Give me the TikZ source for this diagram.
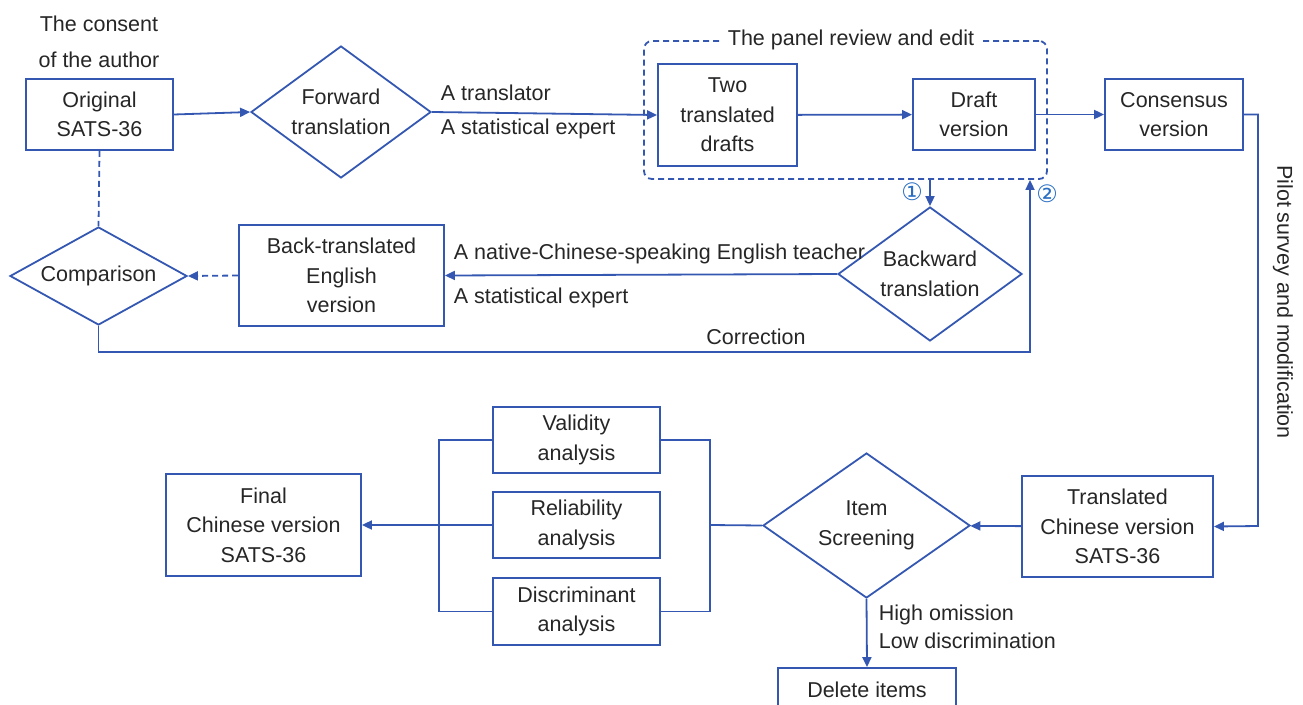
\documentclass[tikz,border=0pt]{standalone}
\usepackage{fontspec}
\setmainfont{Liberation Sans}
\newfontfamily\symfont{DejaVu Sans}
\usetikzlibrary{shapes.geometric,arrows.meta}
\definecolor{lineblue}{RGB}{52,88,178}
\definecolor{numblue}{RGB}{40,110,195}
\definecolor{txt}{RGB}{38,38,38}

\begin{document}
\begin{tikzpicture}[x=1pt,y=-1pt,line width=1.8pt,
  >={Triangle[length=10pt,width=9pt]},
  every node/.style={text=txt,font=\fontsize{21.5}{29.5}\selectfont,inner sep=0pt},
  box/.style={draw=lineblue,align=center},
  dia/.style={draw=lineblue,diamond,align=center},
  lab/.style={anchor=west},
  wire/.style={draw=lineblue},
  num/.style={text=numblue,font=\symfont\fontsize{24}{24}\selectfont},
  dash6/.style={dash pattern=on 6pt off 4pt}]
\useasboundingbox (0,0) rectangle (1303,704);

% boxes
\begin{scope}[every node/.append style={box}]
\node[minimum width=147,minimum height=71] (orig) at (99.5,114.5) {Original\\SATS-36};
\node[minimum width=139,minimum height=102] (two) at (727.5,115) {Two\\translated\\drafts};
\node[minimum width=122,minimum height=71] (draft) at (974,114.5) {Draft\\version};
\node[minimum width=138,minimum height=71] (cons) at (1174,114.5) {Consensus\\version};
\node[minimum width=205,minimum height=101] (btrans) at (341.5,275.5) {Back-translated\\English\\version};
\node[minimum width=191,minimum height=101] (trans) at (1117.5,526.5) {Translated\\Chinese version\\SATS-36};
\node[minimum width=195,minimum height=102] (final) at (263.5,525) {Final\\Chinese version\\SATS-36};
\node[minimum width=167,minimum height=66] (valid) at (576.5,440) {Validity\\analysis};
\node[minimum width=167,minimum height=66] (rel) at (576.5,525) {Reliability\\analysis};
\node[minimum width=167,minimum height=67] (disc) at (576.5,611.5) {Discriminant\\analysis};
\node[minimum width=178,minimum height=44] (del) at (867,690) {Delete items};
\end{scope}

% diamonds
\node[dia,aspect=1.36,minimum width=180,minimum height=132] (fwd) at (341,112) {Forward\\translation};
\node[dia,aspect=1.37,minimum width=184,minimum height=134] (back) at (930,274) {Backward\\translation};
\node[dia,aspect=1.8,minimum width=177,minimum height=98] (comp) at (98.5,276) {Comparison};
\node[dia,aspect=1.43,minimum width=207,minimum height=145] (item) at (866.5,525.5) {Item\\Screening};

% panel
\node[draw=lineblue,dash6,rounded corners=8pt,minimum width=403,minimum height=138] (panel) at (845.5,110) {};
\node[fill=white,inner xsep=8pt] (plab) at (851,40) {The panel review and edit};

\node[align=center,font=\fontsize{21.5}{36}\selectfont] (consent) at (99,42) {The consent\\of the author};

% connectors
\draw[wire,->] (orig.east) -- (fwd.west);
\draw[wire,->] (fwd.east) -- (two.west);
\node[lab] (tr1) at (440,93) {A translator};
\node[lab] (tr2) at (440,129) {A statistical expert};
\draw[wire,->] (two) -- (draft);
\draw[wire,->] (draft) -- (cons);
\draw[wire,dash6] (orig.south) -- (comp.north);

\draw[wire,->] (panel.south -| back.north) -- (back.north);
\node[num] (n1) at (912,192) {①};

\draw[wire,->] (back.west) -- (btrans.east);
\node[lab] (bt1) at (453,254) {A native-Chinese-speaking English teacher};
\node[lab] (bt2) at (453,298) {A statistical expert};
\draw[wire,dash6,->] (btrans.west) -- (comp.east);

\coordinate (ret) at (1030,352);
\draw[wire,->] (comp.south) |- (ret) -- (ret |- panel.south);
\node (corr) at (756,337) {Correction};
\node[num] (n2) at (1047,194) {②};

\coordinate (pbend) at (1258,526);
\draw[wire,->] (cons.east) -| (pbend) -- (trans.east);
\node[rotate=-90] (pilot) at (1283,302) {Pilot survey and modification};

\draw[wire,->] (trans) -- (item);
\draw[wire,->] (item.south) -- (del.north);
\node[lab] (hi) at (878,615) {High omission};
\node[lab] (lo) at (878,641) {Low discrimination};

\coordinate (rbus) at (710,525);
\draw[wire] (item.west) -- (rbus);
\draw[wire] (valid.east) -| (rbus |- disc.east) -- (disc.east);
\coordinate (lbus) at (439,525);
\draw[wire] (valid.west) -| (lbus |- disc.west) -- (disc.west);
\draw[wire,->] (rel.west) -- (final.east);
\end{tikzpicture}
\end{document}
